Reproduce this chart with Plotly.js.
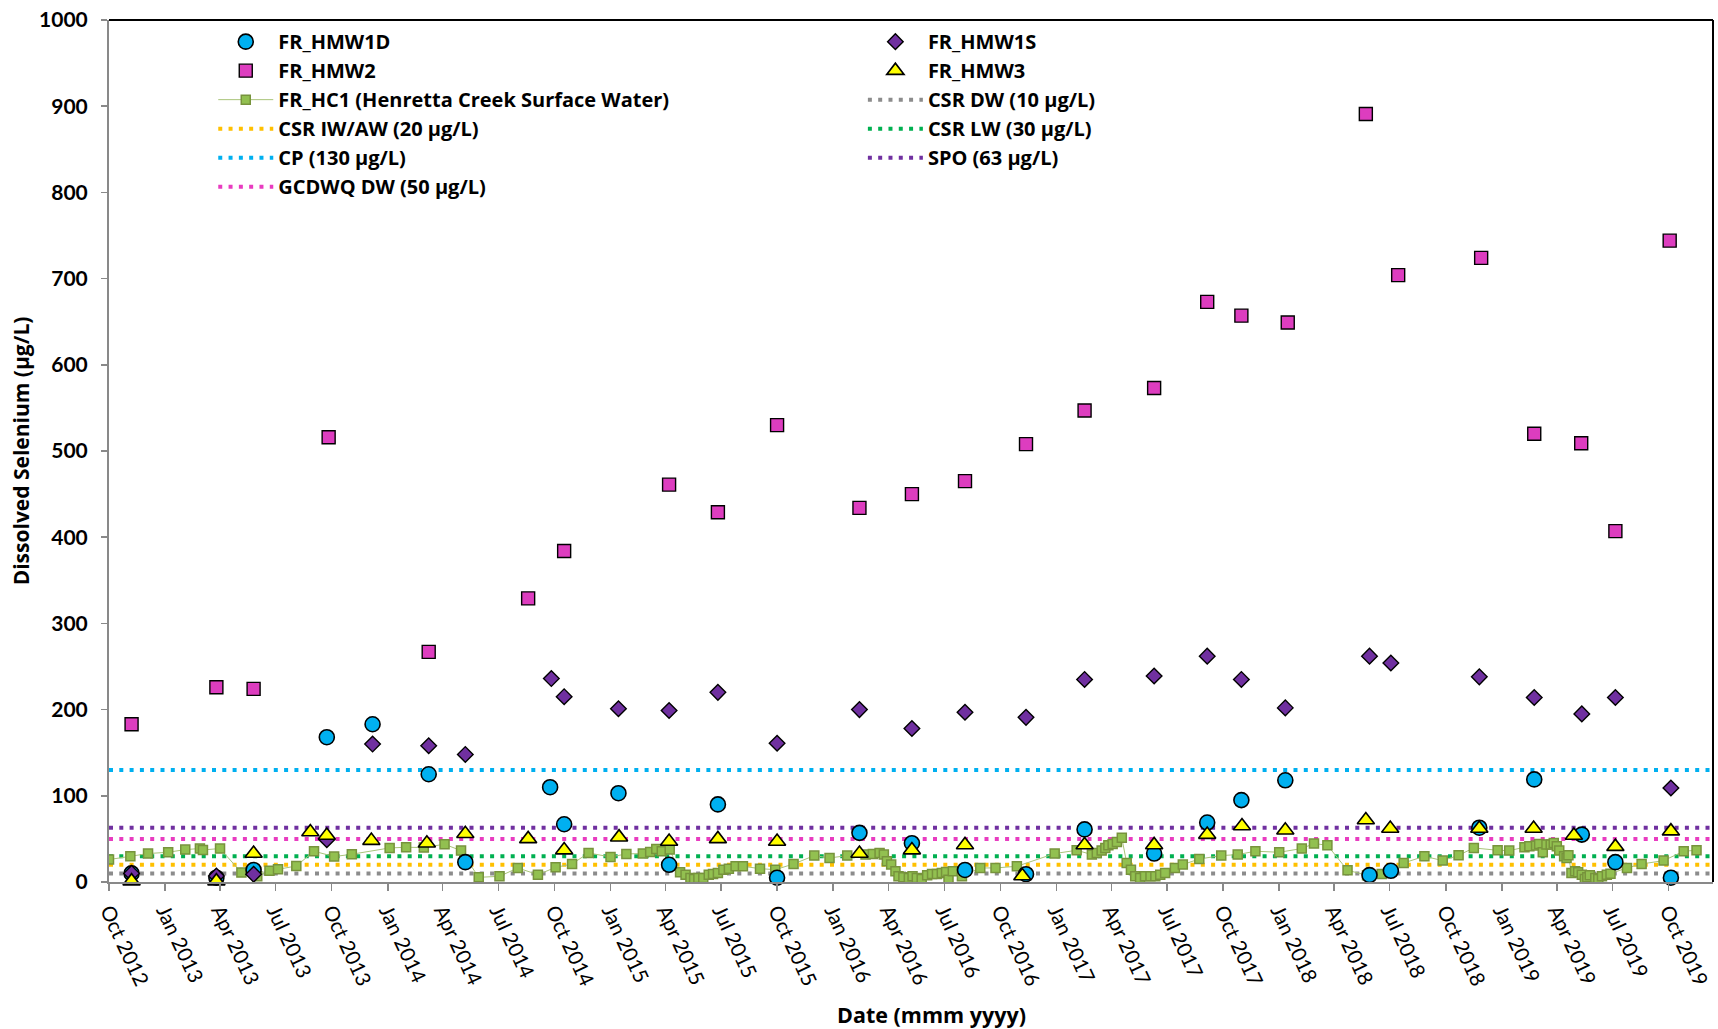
<!DOCTYPE html>
<html>
<head>
<meta charset="utf-8">
<script src="https://cdn.plot.ly/plotly-3.0.1.min.js"></script>
<style>html,body{margin:0;padding:0;background:#fff;}#chart{width:1718px;height:1029px;}</style>
</head>
<body>
<div id="chart"></div>
<script>
// ---------- axis extent ----------
const X_MIN = '2012-10-01';
const X_MAX = '2019-12-13';

// ---------- FR_HMW1D ----------
const hmw1dDates = ['2012-11-07','2013-03-26','2013-05-26','2013-09-23','2013-12-07','2014-03-09','2014-05-08','2014-09-24','2014-10-17','2015-01-14','2015-04-07','2015-06-26','2015-10-01','2016-02-13','2016-05-09','2016-08-04','2016-11-12','2017-02-16','2017-06-10','2017-09-05','2017-10-31','2018-01-11','2018-05-29','2018-07-03','2018-11-25','2019-02-23','2019-05-12','2019-07-06','2019-10-05'];
const hmw1dVals  = [10,5,14,168,183,125,23,110,67,103,20,90,5,57,45,14,9,61,33,69,95,118,8,13,63,119,55,23,5];

// ---------- FR_HMW1S ----------
const hmw1sDates = ['2012-11-07','2013-03-26','2013-05-26','2013-09-23','2013-12-07','2014-03-09','2014-05-08','2014-09-26','2014-10-17','2015-01-14','2015-04-07','2015-06-26','2015-10-01','2016-02-13','2016-05-09','2016-08-04','2016-11-12','2017-02-16','2017-06-10','2017-09-05','2017-10-31','2018-01-11','2018-05-29','2018-07-03','2018-11-25','2019-02-23','2019-05-12','2019-07-06','2019-10-05'];
const hmw1sVals  = [10,7,9,49,160,158,148,236,215,201,199,220,161,200,178,197,191,235,239,262,235,202,262,254,238,214,195,214,109];

// ---------- FR_HMW2 ----------
const hmw2Dates = ['2012-11-07','2013-03-26','2013-05-26','2013-09-26','2014-03-09','2014-08-19','2014-10-17','2015-04-07','2015-06-26','2015-10-01','2016-02-13','2016-05-09','2016-08-04','2016-11-12','2017-02-16','2017-06-10','2017-09-05','2017-10-31','2018-01-15','2018-05-23','2018-07-15','2018-11-28','2019-02-23','2019-05-11','2019-07-06','2019-10-03'];
const hmw2Vals  = [183,226,224,516,267,329,384,461,429,530,434,450,465,508,547,573,673,657,649,891,704,724,520,509,407,744];

// ---------- FR_HMW3 ----------
const hmw3Dates = ['2012-11-07','2013-03-26','2013-05-26','2013-08-27','2013-09-23','2013-12-05','2014-03-06','2014-05-08','2014-08-19','2014-10-17','2015-01-15','2015-04-07','2015-06-26','2015-10-01','2016-02-13','2016-05-09','2016-08-04','2016-11-06','2017-02-16','2017-06-10','2017-09-05','2017-11-01','2018-01-11','2018-05-23','2018-07-02','2018-11-25','2019-02-22','2019-04-29','2019-07-06','2019-10-05'];
const hmw3Vals  = [1,1,33,58,54,48,45,56,50,37,52,47,50,47,33,37,43,7,43,43,55,65,60,72,62,62,62,54,41,59];

// ---------- FR_HC1 (Henretta Creek Surface Water) ----------
const hc1Dates = ['2012-10-01','2012-11-05','2012-12-04','2013-01-06','2013-02-03','2013-02-27','2013-03-04','2013-04-01','2013-05-06','2013-06-01','2013-06-21','2013-07-05','2013-08-04','2013-09-02','2013-10-05','2013-11-03','2014-01-04','2014-01-31','2014-03-01','2014-04-04','2014-05-01','2014-05-30','2014-07-03','2014-08-02','2014-09-04','2014-10-03','2014-10-30','2014-11-26','2015-01-01','2015-01-27','2015-02-23','2015-03-07','2015-03-17','2015-03-26','2015-04-08','2015-04-25','2015-05-04','2015-05-12','2015-05-18','2015-05-25','2015-06-02','2015-06-11','2015-06-18','2015-06-26','2015-07-05','2015-07-14','2015-07-25','2015-08-06','2015-09-03','2015-09-28','2015-10-28','2015-12-01','2015-12-26','2016-01-24','2016-02-23','2016-03-06','2016-03-17','2016-03-24','2016-03-29','2016-04-05','2016-04-12','2016-04-17','2016-04-25','2016-05-04','2016-05-10','2016-05-17','2016-05-25','2016-06-03','2016-06-11','2016-06-19','2016-06-27','2016-07-04','2016-07-08','2016-07-15','2016-07-30','2016-08-29','2016-09-23','2016-10-28','2016-12-29','2017-02-03','2017-02-28','2017-03-08','2017-03-16','2017-03-22','2017-03-27','2017-04-03','2017-04-10','2017-04-18','2017-04-26','2017-05-03','2017-05-10','2017-05-18','2017-05-26','2017-06-04','2017-06-12','2017-06-20','2017-06-28','2017-07-14','2017-07-27','2017-08-23','2017-09-28','2017-10-25','2017-11-23','2018-01-01','2018-02-07','2018-02-27','2018-03-21','2018-04-23','2018-05-25','2018-06-18','2018-07-24','2018-08-27','2018-09-26','2018-10-22','2018-11-16','2018-12-25','2019-01-13','2019-02-07','2019-02-15','2019-02-26','2019-03-03','2019-03-09','2019-03-15','2019-03-22','2019-03-27','2019-04-01','2019-04-05','2019-04-13','2019-04-17','2019-04-20','2019-04-25','2019-05-01','2019-05-06','2019-05-12','2019-05-17','2019-05-21','2019-05-25','2019-06-03','2019-06-08','2019-06-14','2019-06-22','2019-06-28','2019-07-25','2019-08-18','2019-09-23','2019-10-26','2019-11-16'];
const hc1Vals = [26,30,33,34.5,37.6,38.8,37.2,38.8,10.9,6.6,13,14.7,18.6,35.7,29.5,32.2,39.5,40.3,40,43.8,36.4,5.4,6.6,16.3,8.5,17,20.9,33.7,29,32.6,33,34.9,38.4,35.7,37.6,11.2,8.5,4.7,3.5,4.7,4.7,8.5,9.3,10.5,14.3,15.5,18.2,18.2,15.5,14.3,20.9,30.6,27.9,30.6,31.8,32.6,33.7,31.8,24,20.2,12.4,6.6,5.4,4.7,6.6,4.7,3.5,7.8,9.3,9.3,10.5,11.6,2.7,12.4,6.6,16.3,16.3,18.2,33,36.8,31.8,33.7,36.4,39.5,42.6,44.2,46.5,51.2,22.1,14.3,6.6,4.7,6.6,6.6,6.6,8.5,10.5,16.3,20.2,26.7,30.6,31.8,35.7,34.5,38.8,44.6,42.6,13.6,7.8,9.3,22.1,29.8,24.8,31,39.5,36.8,36.4,40.3,41.5,42.2,44.2,34.5,43.4,43.4,45.3,41.5,36.4,29.8,27.9,31,10.5,12.4,11.2,8.5,3.5,5.4,7.8,4.7,3.5,6.6,8.5,9.7,16.3,20.9,24.8,35.7,36.8];

// ---------- guideline values ----------
const guideNames  = ['CSR DW (10 µg/L)','CSR IW/AW (20 µg/L)','CSR LW (30 µg/L)','CP (130 µg/L)','SPO (63 µg/L)','GCDWQ DW (50 µg/L)'];
const guideValues = [10,20,30,130,63,50];
const guideColors = ['#8c8c8c','#ffc000','#00b050','#00b0f0','#7030a0','#e83cc0'];
const guideLegend = ['legend2','legend','legend2','legend','legend2','legend'];
const guideRank   = [3,4,4,5,5,6];

const FONT = 'Lato, "Open Sans", "Liberation Sans", sans-serif';
const FONT_WIDE = '"Open Sans", Lato, "Liberation Sans", sans-serif';
const traces = [];

guideValues.forEach((v, i) => {
  traces.push({
    type: 'scatter', mode: 'lines', name: guideNames[i],
    x: [X_MIN, X_MAX], y: [v, v],
    line: {color: guideColors[i], width: 4, dash: '4px,6.3px'},
    legend: guideLegend[i], legendrank: guideRank[i], hoverinfo: 'skip'
  });
});

traces.push({
  type: 'scatter', mode: 'lines+markers', name: 'FR_HC1 (Henretta Creek Surface Water)',
  x: hc1Dates, y: hc1Vals,
  line: {color: '#a9c47a', width: 1},
  marker: {symbol: 'square', size: 9, color: '#92c050', line: {color: '#77933c', width: 1.5}},
  legend: 'legend', legendrank: 3, cliponaxis: true
});

traces.push({
  type: 'scatter', mode: 'markers', name: 'FR_HMW1D', x: hmw1dDates, y: hmw1dVals,
  marker: {symbol: 'circle', size: 15, color: '#00b0f0', line: {color: '#000', width: 1.6}},
  legend: 'legend', legendrank: 1, cliponaxis: false
});
traces.push({
  type: 'scatter', mode: 'markers', name: 'FR_HMW1S', x: hmw1sDates, y: hmw1sVals,
  marker: {symbol: 'diamond', size: 12, color: '#7030a0', line: {color: '#000', width: 1.4}},
  legend: 'legend2', legendrank: 1, cliponaxis: false
});
traces.push({
  type: 'scatter', mode: 'markers', name: 'FR_HMW2', x: hmw2Dates, y: hmw2Vals,
  marker: {symbol: 'square', size: 13, color: '#dd3dbf', line: {color: '#000', width: 1.4}},
  legend: 'legend', legendrank: 2, cliponaxis: false
});
traces.push({
  type: 'scatter', mode: 'markers', name: 'FR_HMW3', x: hmw3Dates, y: hmw3Vals,
  marker: {symbol: 'triangle-up', size: 15, color: '#ffff00', line: {color: '#000', width: 1.6}},
  legend: 'legend2', legendrank: 2, cliponaxis: false
});

const legendCommon = {
  orientation: 'v', bgcolor: 'rgba(0,0,0,0)', borderwidth: 0,
  font: {family: FONT_WIDE, size: 20, color: '#000', weight: 'bold'},
  itemwidth: 55, traceorder: 'normal', xanchor: 'left', yanchor: 'top'
};

const layout = {
  width: 1718, height: 1029, autosize: false,
  paper_bgcolor: '#fff', plot_bgcolor: '#fff',
  margin: {l: 108.5, r: 5, t: 20, b: 147, pad: 0},
  font: {family: FONT, color: '#000'},
  showlegend: true,
  legend: Object.assign({}, legendCommon, {x: 0.065, y: 0.9975}),
  legend2: Object.assign({}, legendCommon, {x: 0.470, y: 0.9975}),
  xaxis: {
    type: 'date', range: [X_MIN, X_MAX],
    tick0: '2012-10-01', dtick: 'M3', tickformat: '%b %Y',
    tickangle: 65, ticks: 'outside', ticklen: 7, tickwidth: 1.5, tickcolor: '#898989',
    tickfont: {family: FONT, size: 20.5, color: '#000'},
    showgrid: false, zeroline: false,
    showline: true, linecolor: '#898989', linewidth: 2,
    automargin: false
  },
  yaxis: {
    range: [0, 1000], dtick: 100, tick0: 0,
    ticks: 'outside', ticklen: 6, tickwidth: 1.5, tickcolor: '#898989',
    ticklabelstandoff: 9,
    tickfont: {family: FONT, size: 21, color: '#000', weight: 'bold'},
    showgrid: false, zeroline: false,
    showline: true, linecolor: '#898989', linewidth: 2,
    title: {text: 'Dissolved Selenium (µg/L)', font: {family: FONT_WIDE, size: 21, color: '#000', weight: 'bold'}, standoff: 4},
    automargin: false
  },
  annotations: [
    {text: 'Date (mmm yyyy)', xref: 'paper', yref: 'paper', x: 0.513, y: -0.154,
     xanchor: 'center', yanchor: 'middle', showarrow: false,
     font: {family: FONT_WIDE, size: 21.5, color: '#000', weight: 'bold'}}
  ],
  shapes: [
    {type: 'line', xref: 'paper', yref: 'paper', x0: 0, x1: 1, y0: 1, y1: 1, line: {color: '#000', width: 2}},
    {type: 'line', xref: 'paper', yref: 'paper', x0: 1, x1: 1, y0: 0, y1: 1, line: {color: '#000', width: 2}}
  ]
};

Plotly.newPlot('chart', traces, layout, {displayModeBar: false, staticPlot: true});
</script>
</body>
</html>
